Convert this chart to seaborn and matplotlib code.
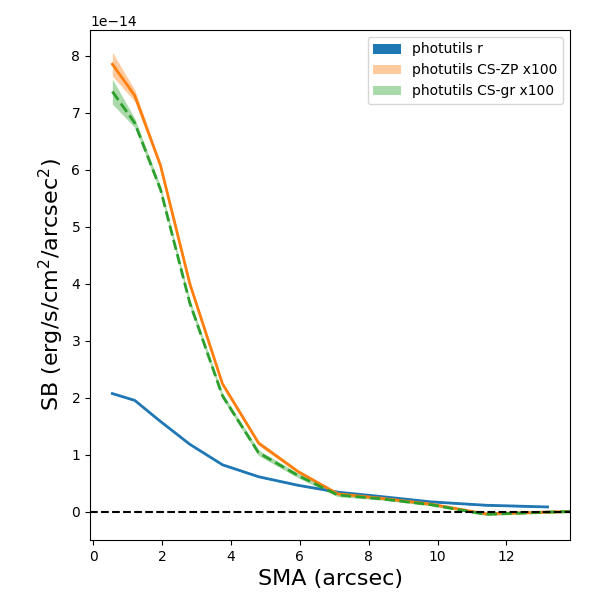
import numpy as np
import pandas as pd
import matplotlib
matplotlib.use("Agg")
import matplotlib.pyplot as plt
import seaborn as sns

# SMA grid (arcsec)
sma_r = [0.55, 1.2, 1.95, 2.8, 3.75, 4.8, 5.95, 7.1, 8.4, 9.8, 11.4, 13.2]
sma_cs = [0.55, 1.2, 1.95, 2.8, 3.75, 4.8, 5.95, 7.1, 8.4, 9.8, 11.4, 13.2, 13.85]

# surface brightness, units of 1e-14 erg/s/cm2/arcsec2
sb_r = [2.07, 1.95, 1.58, 1.18, 0.82, 0.61, 0.46, 0.34, 0.26, 0.17, 0.11, 0.08]
err_r = [0.01, 0.01, 0.01, 0.01, 0.01, 0.01, 0.01, 0.01, 0.01, 0.01, 0.01, 0.01]

sb_zp = [7.85, 7.3, 6.07, 4.0, 2.24, 1.2, 0.7, 0.31, 0.23, 0.13, -0.04, -0.01, 0.0]
err_zp = [0.21, 0.1, 0.05, 0.05, 0.04, 0.04, 0.03, 0.02, 0.02, 0.02, 0.02, 0.02, 0.02]

sb_gr = [7.37, 6.82, 5.65, 3.66, 2.03, 1.03, 0.63, 0.29, 0.22, 0.12, -0.05, -0.01, 0.0]
err_gr = [0.22, 0.08, 0.06, 0.06, 0.05, 0.05, 0.04, 0.03, 0.02, 0.02, 0.02, 0.02, 0.02]

scale = 1e-14
blue, orange, green = "#1f77b4", "#ff7f0e", "#2ca02c"

fig, ax = plt.subplots(figsize=(6, 6), dpi=100)
fig.subplots_adjust(left=0.15, right=0.95, bottom=0.1, top=0.95)

series = [
    (sma_r, sb_r, err_r, blue, 1.0, "-", "photutils r"),
    (sma_cs, sb_zp, err_zp, orange, 0.4, "-", "photutils CS-ZP x100"),
    (sma_cs, sb_gr, err_gr, green, 0.4, "--", "photutils CS-gr x100"),
]

for x, y, e, col, alpha, ls, lab in series:
    y = np.array(y) * scale
    e = np.array(e) * scale
    ax.fill_between(x, y - e, y + e, color=col, alpha=alpha, lw=0, label=lab)
    df = pd.DataFrame({"sma": x, "sb": y})
    sns.lineplot(data=df, x="sma", y="sb", ax=ax, color=col, lw=2,
                 linestyle=ls, legend=False)

ax.axhline(0, color="k", ls="--", lw=1.5)

ax.set_xlim(-0.1, 13.85)
ax.set_ylim(-0.5e-14, 8.45e-14)
ax.set_xticks([0, 2, 4, 6, 8, 10, 12])
ax.set_xlabel("SMA (arcsec)", fontsize=16)
ax.set_ylabel("SB (erg/s/cm$^2$/arcsec$^2$)", fontsize=16)
ax.legend(loc="upper right")

plt.savefig("out.png")
